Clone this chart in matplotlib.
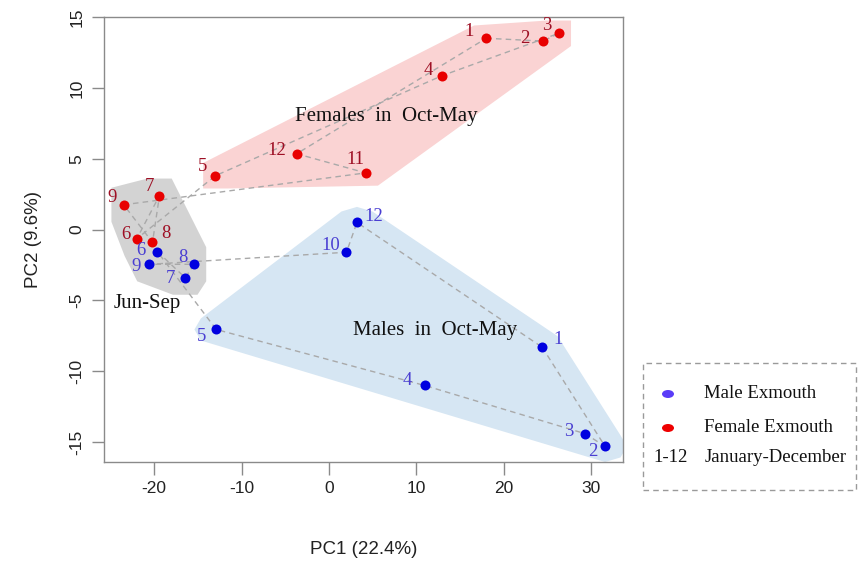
import numpy as np
import matplotlib
matplotlib.use("Agg")
import matplotlib.pyplot as plt
from matplotlib.patches import Polygon, Ellipse, Rectangle

# PCA scores (month -> PC1, PC2)
fem_months = [1, 2, 3, 4, 5, 6, 7, 8, 9, 11, 12]
fem_pc1 = [18.0, 24.5, 26.3, 12.9, -13.0, -22.0, -19.4, -20.2, -23.5, 4.2, -3.7]
fem_pc2 = [13.5, 13.3, 13.85, 10.85, 3.8, -0.65, 2.4, -0.9, 1.75, 4.0, 5.35]

male_months = [1, 2, 3, 4, 5, 6, 7, 8, 9, 10, 12]
male_pc1 = [24.4, 31.6, 29.3, 10.95, -12.9, -19.65, -16.45, -15.45, -20.55, 2.0, 3.2]
male_pc2 = [-8.3, -15.3, -14.4, -11.0, -7.05, -1.55, -3.4, -2.45, -2.45, -1.6, 0.5]

summer = [6, 7, 8, 9]
x_ticks = [-20, -10, 0, 10, 20, 30]
y_ticks = [-15, -10, -5, 0, 5, 10, 15]

# label offsets in pixels (dx, dy)
fem_off = {1: (-17, 7), 2: (-18, 3), 3: (-12, 8), 4: (-13, 5), 5: (-13, 9), 6: (-11, 4),
           7: (-10, 9), 8: (13, 9), 9: (-12, 7), 11: (-10, 13), 12: (-20, 3)}
male_off = {1: (16, 8), 2: (-12, -5), 3: (-16, 2), 4: (-17, 5), 5: (-15, -7), 6: (-16, 1),
            7: (-15, -1), 8: (-11, 7), 9: (-13, -2), 10: (-16, 7), 12: (17, 6)}

SERIF = "Liberation Serif"
SANS = "Liberation Sans"


def hull(pts):
    pts = sorted(set(map(tuple, pts)))
    def cross(o, a, b):
        return (a[0] - o[0]) * (b[1] - o[1]) - (a[1] - o[1]) * (b[0] - o[0])
    lower, upper = [], []
    for p in pts:
        while len(lower) >= 2 and cross(lower[-2], lower[-1], p) <= 0:
            lower.pop()
        lower.append(p)
    for p in reversed(pts):
        while len(upper) >= 2 and cross(upper[-2], upper[-1], p) <= 0:
            upper.pop()
        upper.append(p)
    return np.array(lower[:-1] + upper[:-1])


def padded_hull(xs, ys, dx, dy, corners=4):
    # grow every point into a small polygon, then take the hull of all corners
    if corners == 4:
        ring = [(-1, -1), (-1, 1), (1, -1), (1, 1)]
    else:
        ang = np.arange(corners) * 2 * np.pi / corners
        ring = list(zip(np.cos(ang), np.sin(ang)))
    pts = [(x + a * dx, y + b * dy) for x, y in zip(xs, ys) for a, b in ring]
    return hull(pts)


def pick(months, xs, ys, keep):
    sel = [i for i, m in enumerate(months) if m in keep]
    return [xs[i] for i in sel], [ys[i] for i in sel]


fig = plt.figure(figsize=(8.58, 5.74), dpi=100)
ax = fig.add_axes([104 / 858, 1 - 462 / 574, (623 - 104) / 858, (462 - 17) / 574])

# shaded groups
fx, fy = pick(fem_months, fem_pc1, fem_pc2, [m for m in fem_months if m not in summer])
mx, my = pick(male_months, male_pc1, male_pc2, [m for m in male_months if m not in summer])
sfx, sfy = pick(fem_months, fem_pc1, fem_pc2, summer)
smx, smy = pick(male_months, male_pc1, male_pc2, summer)

ax.add_patch(Polygon(padded_hull(fx, fy, 1.4, 0.9), closed=True, fc="#FAD3D3", ec="none", zorder=1))
ax.add_patch(Polygon(padded_hull(mx, my, 2.5, 1.1, corners=8), closed=True, fc="#D6E6F3", ec="none", zorder=1))
ax.add_patch(Polygon(padded_hull(sfx + smx, sfy + smy, 1.4, 1.2), closed=True, fc="#D3D3D3", ec="none", zorder=1.5))

# month-to-month paths
dash = (0, (4, 3))
ax.plot(fem_pc1 + fem_pc1[:1], fem_pc2 + fem_pc2[:1], color="#A9A9A9", lw=1, ls=dash, zorder=2)
ax.plot(male_pc1 + male_pc1[:1], male_pc2 + male_pc2[:1], color="#A9A9A9", lw=1, ls=dash, zorder=2)

ax.scatter(fem_pc1, fem_pc2, s=52, color="#E80000", zorder=3, linewidths=0)
ax.scatter(male_pc1, male_pc2, s=52, color="#0000E0", zorder=3, linewidths=0)

for m, x, y in zip(fem_months, fem_pc1, fem_pc2):
    ax.annotate(str(m), (x, y), xytext=fem_off[m], textcoords="offset pixels",
                ha="center", va="center", fontsize=13.5, family=SERIF, color="#9E1025", zorder=4)
for m, x, y in zip(male_months, male_pc1, male_pc2):
    ax.annotate(str(m), (x, y), xytext=male_off[m], textcoords="offset pixels",
                ha="center", va="center", fontsize=13.5, family=SERIF, color="#4A3FD2", zorder=4)

ax.text(6.6, 8.0, "Females  in  Oct-May", ha="center", va="center", fontsize=15, family=SERIF, color="#111111", zorder=4)
ax.text(12.1, -7.1, "Males  in  Oct-May", ha="center", va="center", fontsize=15, family=SERIF, color="#111111", zorder=4)
ax.text(-20.8, -5.2, "Jun-Sep", ha="center", va="center", fontsize=15, family=SERIF, color="#111111", zorder=4)

ax.set_xlim(-25.75, 33.65)
ax.set_ylim(-16.4, 15.0)
ax.set_xticks(x_ticks)
ax.set_yticks(y_ticks)
ax.set_xticklabels([str(t) for t in x_ticks], family=SANS, fontsize=12.5, color="#222222")
ax.set_yticklabels([str(t) for t in y_ticks], family=SANS, fontsize=12.5, color="#222222",
                   rotation=90, va="center")
ax.tick_params(length=9, width=1, color="#8A8A8A", pad=5)
for s in ax.spines.values():
    s.set_color("#8A8A8A")
    s.set_linewidth(1)
ax.set_xlabel("PC1 (22.4%)", family=SANS, fontsize=13.5, color="#222222", labelpad=32)
ax.set_ylabel("PC2 (9.6%)", family=SANS, fontsize=13.5, color="#222222", labelpad=20)

# legend box drawn in figure pixels
W, H = 858, 574
fig.add_artist(Rectangle((643 / W, 1 - 490 / H), (856 - 643) / W, (490 - 363) / H,
                         transform=fig.transFigure, fill=False, ec="#9A9A9A", lw=1, ls=(0, (4, 3))))
fig.add_artist(Ellipse((668 / W, 1 - 394 / H), 12 / W, 8 / H, transform=fig.transFigure,
                       fc="#5A3CF8", ec="none"))
fig.add_artist(Ellipse((668 / W, 1 - 428 / H), 12 / W, 8 / H, transform=fig.transFigure,
                       fc="#EE0000", ec="none"))
fig.text(704 / W, 1 - 394 / H, "Male Exmouth", ha="left", va="center", fontsize=13.5, family=SERIF, color="#111111")
fig.text(704 / W, 1 - 428 / H, "Female Exmouth", ha="left", va="center", fontsize=13.5, family=SERIF, color="#111111")
fig.text(653 / W, 1 - 458 / H, "1-12", ha="left", va="center", fontsize=13.5, family=SERIF, color="#111111")
fig.text(705 / W, 1 - 458 / H, "January-December", ha="left", va="center", fontsize=13.5, family=SERIF, color="#111111")

fig.savefig("out.png", dpi=100)
